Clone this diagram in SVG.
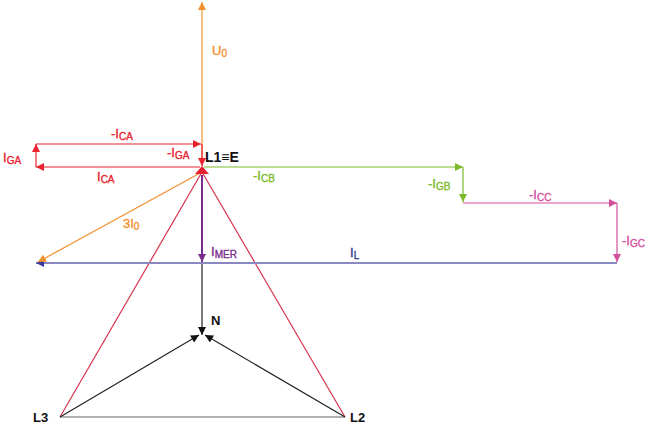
<svg xmlns="http://www.w3.org/2000/svg" width="650" height="426" viewBox="0 0 650 426">
<style>
.l{fill:none;stroke-width:1.2}
.or{stroke:#f0902e}.rd{stroke:#e8222e}.gr{stroke:#7dba2a}.pk{stroke:#d24f9c}.bl{stroke:#8a88c0;stroke-width:2}.pu{stroke:#7a2c8c;stroke-width:2}.bk{stroke:#222}.cr{stroke:#d8324e}.gy{stroke:#999;stroke-width:1.5}
text{font-family:"Liberation Sans",Arial,sans-serif;font-size:13px;stroke-width:0.35}
.s{font-size:10px}
.b{font-weight:bold;fill:#111;stroke:none}
.tor{fill:#f0902e;stroke:#f0902e}.trd{fill:#e8222e;stroke:#e8222e}.tgr{fill:#7dba2a;stroke:#7dba2a}.tpk{fill:#d24f9c;stroke:#d24f9c}.tpu{fill:#7a2c8c;stroke:#7a2c8c}.tbl{fill:#2e3a8e;stroke:#2e3a8e}
</style>
<defs>
<marker id="aor" viewBox="0 0 10 10" refX="10" refY="5" markerWidth="9" markerHeight="8" markerUnits="userSpaceOnUse" orient="auto"><path d="M0,0L10,5L0,10z" fill="#f0902e"/></marker>
<marker id="ard" viewBox="0 0 10 10" refX="10" refY="5" markerWidth="9" markerHeight="8" markerUnits="userSpaceOnUse" orient="auto"><path d="M0,0L10,5L0,10z" fill="#e8222e"/></marker>
<marker id="agr" viewBox="0 0 10 10" refX="10" refY="5" markerWidth="9" markerHeight="8" markerUnits="userSpaceOnUse" orient="auto"><path d="M0,0L10,5L0,10z" fill="#7dba2a"/></marker>
<marker id="apk" viewBox="0 0 10 10" refX="10" refY="5" markerWidth="9" markerHeight="8" markerUnits="userSpaceOnUse" orient="auto"><path d="M0,0L10,5L0,10z" fill="#d24f9c"/></marker>
<marker id="abl" viewBox="0 0 10 10" refX="10" refY="5" markerWidth="9" markerHeight="8" markerUnits="userSpaceOnUse" orient="auto"><path d="M0,0L10,5L0,10z" fill="#3a3a9a"/></marker>
<marker id="apu" viewBox="0 0 10 10" refX="10" refY="5" markerWidth="9" markerHeight="8" markerUnits="userSpaceOnUse" orient="auto"><path d="M0,0L10,5L0,10z" fill="#7a2c8c"/></marker>
<marker id="abk" viewBox="0 0 10 10" refX="10" refY="5" markerWidth="9" markerHeight="8" markerUnits="userSpaceOnUse" orient="auto"><path d="M0,0L10,5L0,10z" fill="#111"/></marker>
</defs>
<g id="connectors">
<line class="l cr" x1="202" y1="172" x2="60" y2="417"/>
<line class="l cr" x1="202" y1="172" x2="345" y2="417"/>
<line class="l gy" x1="60" y1="417" x2="345" y2="417"/>
<line class="l bk" x1="60" y1="417" x2="199" y2="335" marker-end="url(#abk)"/>
<line class="l bk" x1="345" y1="417" x2="205" y2="335" marker-end="url(#abk)"/>
<line class="l bk" x1="202" y1="263" x2="202" y2="335" marker-end="url(#abk)"/>
<line class="l bl" x1="617" y1="263" x2="36" y2="263" marker-end="url(#abl)"/>
<line class="l or" x1="202" y1="172" x2="38" y2="262" marker-end="url(#aor)"/>
<line class="l pu" x1="202" y1="175" x2="202" y2="262" marker-end="url(#apu)"/>
<line class="l or" x1="202" y1="165" x2="202" y2="2" marker-end="url(#aor)"/>
<line class="l rd" x1="36" y1="144" x2="201" y2="144" marker-end="url(#ard)"/>
<line class="l rd" x1="202" y1="144" x2="202" y2="166" marker-end="url(#ard)"/>
<line class="l rd" x1="200" y1="167" x2="36" y2="167" marker-end="url(#ard)"/>
<line class="l rd" x1="36" y1="167" x2="36" y2="144" marker-end="url(#ard)"/>
<line class="l gr" x1="204" y1="167" x2="463" y2="167" marker-end="url(#agr)"/>
<line class="l gr" x1="463" y1="167" x2="463" y2="202" marker-end="url(#agr)"/>
<line class="l pk" x1="463" y1="203" x2="617" y2="203" marker-end="url(#apk)"/>
<line class="l pk" x1="617" y1="203" x2="617" y2="262" marker-end="url(#apk)"/>
<path d="M202,166L209,174L195,174z" fill="#e8222e"/>
</g>
<g id="U0"><text x="212" y="55" class="tor">U<tspan class="s" dy="2">0</tspan></text></g>
<g id="mICA"><text x="111" y="138" class="trd">-I<tspan class="s" dy="2">CA</tspan></text></g>
<g id="mIGA"><text x="167" y="157" class="trd">-I<tspan class="s" dy="2">GA</tspan></text></g>
<g id="IGA"><text x="3" y="162" class="trd">I<tspan class="s" dy="2">GA</tspan></text></g>
<g id="ICA"><text x="97" y="181" class="trd">I<tspan class="s" dy="2">CA</tspan></text></g>
<g id="L1"><text x="205" y="162" class="b" style="font-size:14px">L1≡E</text></g>
<g id="mICB"><text x="253" y="180" class="tgr">-I<tspan class="s" dy="2">CB</tspan></text></g>
<g id="mIGB"><text x="428" y="188" class="tgr">-I<tspan class="s" dy="2">GB</tspan></text></g>
<g id="mICC"><text x="529" y="199" class="tpk">-I<tspan class="s" dy="2">CC</tspan></text></g>
<g id="mIGC"><text x="622" y="245" class="tpk">-I<tspan class="s" dy="2">GC</tspan></text></g>
<g id="I0"><text x="123" y="228" class="tor">3I<tspan class="s" dy="2">0</tspan></text></g>
<g id="IMER"><text x="211" y="256" class="tpu">I<tspan class="s" dy="2">MER</tspan></text></g>
<g id="IL"><text x="350" y="257" class="tbl">I<tspan class="s" dy="2">L</tspan></text></g>
<g id="N"><text x="211" y="325" class="b" style="font-size:13px">N</text></g>
<g id="L3"><text x="33" y="422" class="b" style="font-size:13px">L3</text></g>
<g id="L2"><text x="350" y="422" class="b" style="font-size:13px">L2</text></g>
</svg>
